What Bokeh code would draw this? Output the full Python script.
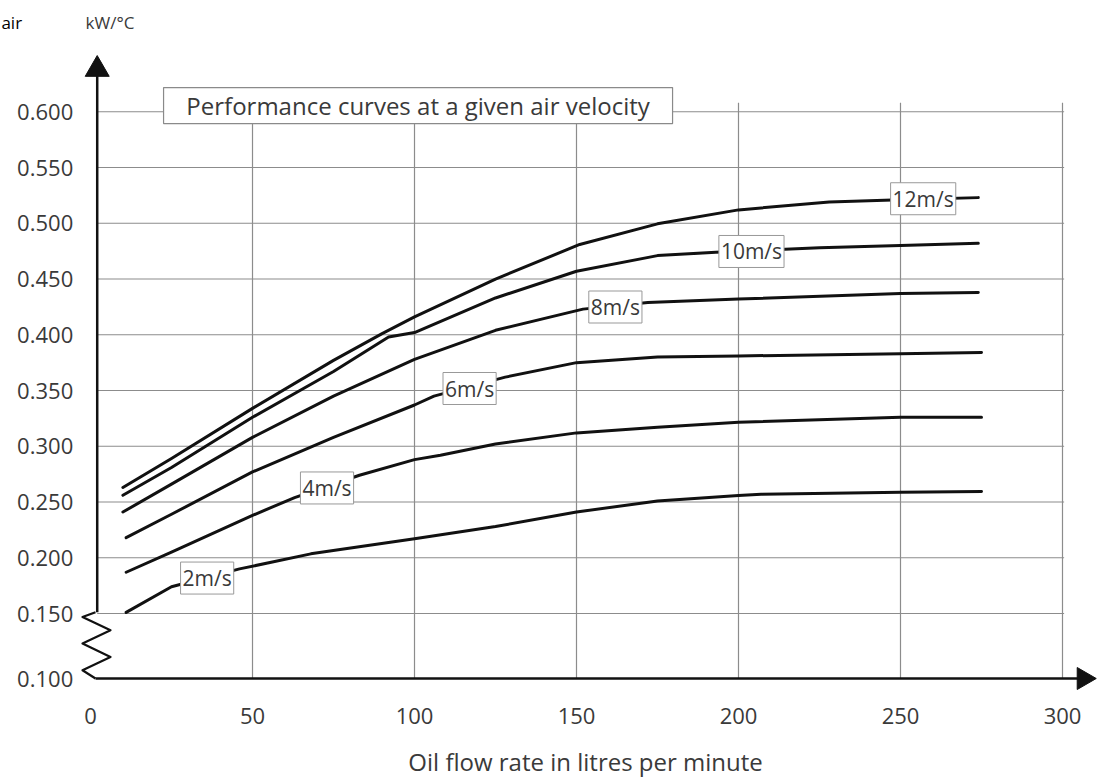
import numpy as np
from bokeh.plotting import figure
from bokeh.models import Range1d, FixedTicker, CustomJSTickFormatter
from bokeh.core.properties import value
from bokeh.embed import file_html
from bokeh.resources import INLINE

# ---------------- data ----------------
flow_2 = [11, 25, 46, 68, 100, 125, 150, 175, 200, 207, 250, 275]
kw_2 = [0.151, 0.174, 0.190, 0.2035, 0.217, 0.228, 0.241, 0.251, 0.2558, 0.257, 0.2588, 0.2594]

flow_4 = [11, 25, 50, 63, 83, 100, 108, 125, 150, 175, 200, 250, 275]
kw_4 = [0.187, 0.205, 0.238, 0.254, 0.274, 0.288, 0.292, 0.302, 0.312, 0.317, 0.3215, 0.326, 0.326]

flow_6 = [11, 25, 50, 75, 100, 106, 128, 150, 175, 200, 250, 275]
kw_6 = [0.218, 0.239, 0.277, 0.308, 0.337, 0.345, 0.362, 0.375, 0.380, 0.381, 0.383, 0.384]

flow_8 = [10, 25, 50, 75, 100, 125, 152, 172, 200, 250, 274]
kw_8 = [0.241, 0.266, 0.308, 0.345, 0.378, 0.404, 0.423, 0.429, 0.432, 0.437, 0.438]

flow_10 = [10, 25, 50, 75, 92, 100, 125, 150, 175, 193, 225, 250, 274]
kw_10 = [0.256, 0.281, 0.326, 0.367, 0.398, 0.402, 0.433, 0.457, 0.471, 0.474, 0.478, 0.480, 0.482]

flow_12 = [10, 25, 50, 75, 90, 100, 125, 151, 175, 200, 228, 250, 274]
kw_12 = [0.263, 0.289, 0.334, 0.377, 0.401, 0.416, 0.450, 0.481, 0.4995, 0.512, 0.519, 0.521, 0.523]

series_labels = ["2m/s", "4m/s", "6m/s", "8m/s", "10m/s", "12m/s"]
label_flow = [36, 73, 117, 162, 204, 257]
label_kw = [0.1818, 0.2626, 0.3518, 0.4249, 0.4747, 0.522]

x_ticks = [0, 50, 100, 150, 200, 250, 300]
y_ticks = [0.15, 0.20, 0.25, 0.30, 0.35, 0.40, 0.45, 0.50, 0.55, 0.60]
y_bottom_label = "0.100"

title_text = "Performance curves at a given air velocity"
x_title = "Oil flow rate in litres per minute"
y_unit = "kW/°C"
corner_text = "air"

# ---------------- styling constants ----------------
FONT = "Open Sans"
TXT = "#3a3a3a"
GRID = "#8c8c8c"
INK = "#111111"
BREAK_Y = 0.0917      # where the broken axis places its 0.100 baseline
AXIS_X = 2.07         # x position of the drawn vertical axis

p = figure(width=1100, height=779,
           x_range=Range1d(-27.78, 311.73), y_range=Range1d(0.00112, 0.6998),
           output_backend="svg", toolbar_location=None,
           min_border_left=0, min_border_right=0, min_border_top=0, min_border_bottom=0)
p.outline_line_color = None
p.background_fill_color = "white"
p.border_fill_color = "white"
p.xgrid.visible = False
p.ygrid.visible = False

# x axis: fixed at the broken baseline, labels only (line drawn separately)
xa = p.xaxis[0]
xa.fixed_location = BREAK_Y
xa.ticker = FixedTicker(ticks=x_ticks)
xa.axis_line_color = None
xa.major_tick_line_color = None
xa.minor_tick_line_color = None
xa.major_tick_out = 0
xa.major_tick_in = 0
xa.major_label_standoff = 29
xa.major_label_text_font = FONT
xa.major_label_text_font_size = "22px"
xa.major_label_text_color = TXT

# y axis: fixed at the drawn vertical axis, labels only
ya = p.yaxis[0]
ya.fixed_location = AXIS_X
ya.ticker = FixedTicker(ticks=[BREAK_Y] + y_ticks)
ya.formatter = CustomJSTickFormatter(
    code="return tick < 0.12 ? '%s' : tick.toFixed(3);" % y_bottom_label)
ya.axis_line_color = None
ya.major_tick_line_color = None
ya.minor_tick_line_color = None
ya.major_tick_out = 0
ya.major_tick_in = 0
ya.major_label_standoff = 24
ya.major_label_text_font = FONT
ya.major_label_text_font_size = "22px"
ya.major_label_text_color = TXT

# grid lines
vx = x_ticks[1:]
p.segment(x0=vx, y0=[BREAK_Y] * len(vx), x1=vx, y1=[0.608] * len(vx),
          line_color=GRID, line_width=1.2)
p.segment(x0=[AXIS_X] * len(y_ticks), y0=y_ticks, x1=[300.5] * len(y_ticks), y1=y_ticks,
          line_color=GRID, line_width=1.2)

# title box
p.rect(x=[101.1], y=[0.6056], width=509, height=36, width_units="screen",
       height_units="screen", fill_color="white", line_color="#8a8a8a", line_width=1.2)
p.text(x=[101.1], y=[0.6056], text=[title_text], text_align="center",
       text_baseline="middle", text_font=value(FONT), text_font_size="24px",
       text_color=TXT)

# axes lines, zigzag break and arrows
p.line([AXIS_X, AXIS_X], [0.1512, 0.636], line_color=INK, line_width=2.5)
zx = [1.54, -2.47, 6.17, -2.47, 6.17, -2.47, 1.54]
zy = [0.1512, 0.1468, 0.1349, 0.1230, 0.1110, 0.0991, BREAK_Y]
p.line(zx, zy, line_color=INK, line_width=2.2, line_join="round")
p.line([1.54, 305], [BREAK_Y, BREAK_Y], line_color=INK, line_width=2.5)
p.scatter([AXIS_X], [0.638], marker="triangle", size=24, fill_color=INK, line_color=INK)
p.scatter([306.5], [BREAK_Y], marker="triangle", size=22, angle=-np.pi / 2,
          fill_color=INK, line_color=INK)

# curves
for fx, ky in [(flow_2, kw_2), (flow_4, kw_4), (flow_6, kw_6),
               (flow_8, kw_8), (flow_10, kw_10), (flow_12, kw_12)]:
    p.line(fx, ky, line_color=INK, line_width=3, line_join="round", line_cap="round")

# series labels in boxes
p.text(x=label_flow, y=label_kw, text=series_labels, text_align="center",
       text_baseline="middle", text_font=value(FONT), text_font_size="21px",
       text_color=TXT, background_fill_color="white", border_line_color="#999999",
       border_line_width=1, padding=2)

# x axis title, unit label and stray corner text
p.text(x=[152.8], y=[0.0173], text=[x_title], text_align="center", text_baseline="middle",
       text_font=value(FONT), text_font_size="24px", text_color=TXT)
p.text(x=[-1.54], y=[0.680], text=[y_unit], text_align="left", text_baseline="middle",
       text_font=value(FONT), text_font_size="17px", text_color=TXT)
p.text(x=[-27.5], y=[0.680], text=[corner_text], text_align="left", text_baseline="middle",
       text_font=value(FONT), text_font_size="17px", text_color="#000000")

open("out.html", "w").write(file_html(p, INLINE))
